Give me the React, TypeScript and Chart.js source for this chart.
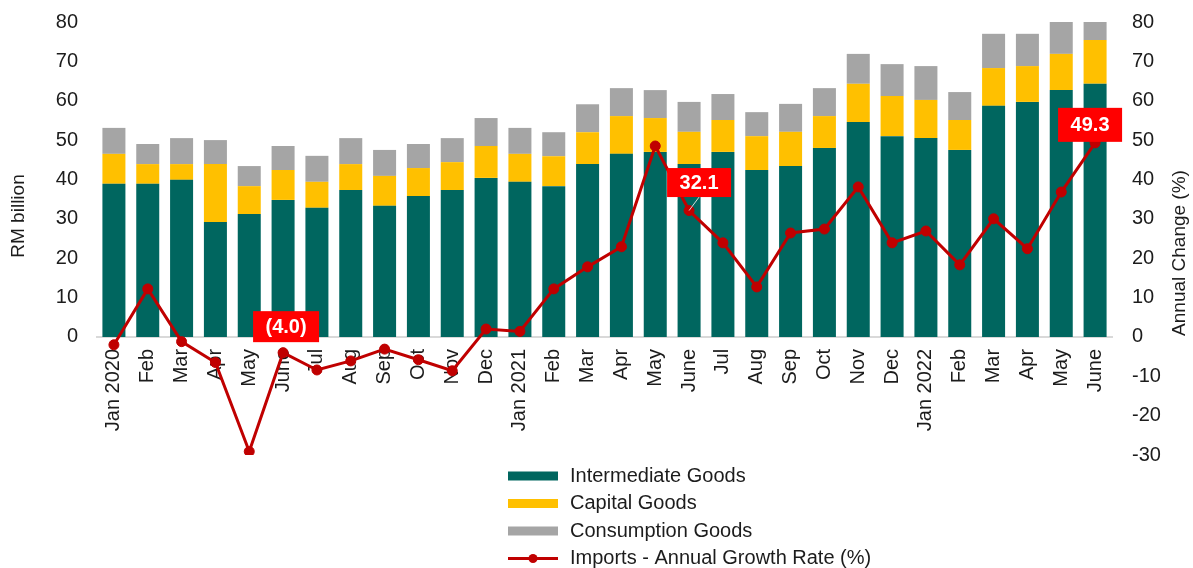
import React, { useEffect, useRef } from 'react';
import { Chart, registerables } from 'chart.js';

Chart.register(...registerables);

const categories = [
  'Jan 2020', 'Feb', 'Mar', 'Apr', 'May', 'June', 'Jul', 'Aug', 'Sep', 'Oct', 'Nov', 'Dec',
  'Jan 2021', 'Feb', 'Mar', 'Apr', 'May', 'June', 'Jul', 'Aug', 'Sep', 'Oct', 'Nov', 'Dec',
  'Jan 2022', 'Feb', 'Mar', 'Apr', 'May', 'June',
];

const intermediateGoods = [
  38.9, 38.9, 39.9, 29.2, 31.2, 34.8, 32.8, 37.3, 33.3, 35.8, 37.3, 40.4,
  39.4, 38.3, 43.9, 46.5, 47.0, 43.9, 47.0, 42.4, 43.4, 48.0, 54.6, 51.0,
  50.5, 47.5, 58.7, 59.7, 62.7, 64.3,
];

const capitalGoods = [
  7.6, 5.0, 4.0, 14.7, 7.1, 7.6, 6.6, 6.6, 7.6, 7.1, 7.1, 8.1,
  7.1, 7.6, 8.1, 9.6, 8.6, 8.2, 8.1, 8.6, 8.7, 8.1, 9.7, 10.2,
  9.7, 7.6, 9.6, 9.1, 9.2, 11.1,
];

const consumptionGoods = [
  6.6, 5.1, 6.6, 6.1, 5.1, 6.1, 6.6, 6.6, 6.6, 6.1, 6.1, 7.1,
  6.6, 6.1, 7.1, 7.1, 7.1, 7.6, 6.6, 6.1, 7.1, 7.1, 7.6, 8.1,
  8.6, 7.1, 8.7, 8.2, 8.1, 4.6,
];

const importsGrowth = [
  -2.0, 12.2, -1.2, -6.5, -29.1, -4.0, -8.4, -6.1, -3.1, -5.8, -8.6, 2.0,
  1.4, 12.2, 17.8, 22.9, 48.5, 32.1, 23.9, 12.7, 26.4, 27.4, 38.1, 23.9,
  26.9, 18.3, 30.0, 22.4, 36.8, 49.3,
];

const labelledPoints = [5, 17, 29];

const leftTicks = [0, 10, 20, 30, 40, 50, 60, 70, 80];

const FONT = "'Liberation Sans', Arial, sans-serif";
const TEXT = '#1c1c1c';

export default function App() {
  const ref = useRef<HTMLCanvasElement>(null);

  useEffect(() => {
    if (!ref.current) return;

    const boxOffsets: Record<number, { dx: number; dy: number; w: number; h: number; leader?: boolean }> = {
      5: { dx: 3, dy: -26, w: 66, h: 31 },
      17: { dx: 10, dy: -28, w: 64, h: 29, leader: true },
      29: { dx: -5, dy: -18, w: 64, h: 34 },
    };

    const overlay = {
      id: 'overlay',
      afterDatasetsDraw(chart: any) {
        const ctx = chart.ctx as CanvasRenderingContext2D;
        const lineIndex = chart.data.datasets.findIndex((d: any) => d.type === 'line');
        const meta = chart.getDatasetMeta(lineIndex);
        const values = chart.data.datasets[lineIndex].data as number[];
        labelledPoints.forEach((i) => {
          const pt = meta.data[i];
          if (!pt) return;
          const o = boxOffsets[i];
          const cx = pt.x + o.dx;
          const cy = pt.y + o.dy;
          ctx.save();
          if (o.leader) {
            ctx.strokeStyle = '#d8d8d8';
            ctx.lineWidth = 1;
            ctx.beginPath();
            ctx.moveTo(pt.x, pt.y);
            ctx.lineTo(cx, cy + o.h / 2);
            ctx.stroke();
          }
          ctx.fillStyle = '#FF0000';
          ctx.fillRect(cx - o.w / 2, cy - o.h / 2, o.w, o.h);
          const v = values[i];
          const txt = v < 0 ? `(${Math.abs(v).toFixed(1)})` : v.toFixed(1);
          ctx.fillStyle = '#ffffff';
          ctx.font = `bold 20px ${FONT}`;
          ctx.textAlign = 'center';
          ctx.textBaseline = 'middle';
          ctx.fillText(txt, cx, cy + 1);
          ctx.restore();
        });
      },
      afterDraw(chart: any) {
        const ctx = chart.ctx as CanvasRenderingContext2D;
        ctx.save();
        ctx.fillStyle = TEXT;
        ctx.font = `19px ${FONT}`;
        ctx.textAlign = 'center';
        ctx.textBaseline = 'middle';
        ctx.save();
        ctx.translate(19, 216);
        ctx.rotate(-Math.PI / 2);
        ctx.fillText('RM billion', 0, 0);
        ctx.restore();
        ctx.save();
        ctx.translate(1180, 253);
        ctx.rotate(-Math.PI / 2);
        ctx.fillText('Annual Change (%)', 0, 0);
        ctx.restore();

        // legend
        const x0 = 508;
        const y0 = 476;
        const step = 27.5;
        chart.data.datasets.forEach((d: any, k: number) => {
          const cy = y0 + k * step;
          if (d.type === 'line') {
            ctx.strokeStyle = d.borderColor;
            ctx.lineWidth = 3;
            ctx.beginPath();
            ctx.moveTo(x0, cy);
            ctx.lineTo(x0 + 50, cy);
            ctx.stroke();
            ctx.fillStyle = d.borderColor;
            ctx.beginPath();
            ctx.arc(x0 + 25, cy, 4.5, 0, Math.PI * 2);
            ctx.fill();
          } else {
            ctx.fillStyle = d.backgroundColor;
            ctx.fillRect(x0, cy - 4.5, 50, 9);
          }
          ctx.fillStyle = TEXT;
          ctx.font = `20px ${FONT}`;
          ctx.textAlign = 'left';
          ctx.textBaseline = 'middle';
          ctx.fillText(d.label, x0 + 62, cy);
        });
        ctx.restore();
      },
    };

    const tickFont = { family: FONT, size: 20 };

    const chart = new Chart(ref.current, {
      type: 'bar',
      data: {
        labels: categories,
        datasets: [
          {
            type: 'bar',
            label: 'Intermediate Goods',
            data: intermediateGoods,
            backgroundColor: '#00665F',
            yAxisID: 'y',
            order: 1,
            barPercentage: 0.68,
            categoryPercentage: 1,
          },
          {
            type: 'bar',
            label: 'Capital Goods',
            data: capitalGoods,
            backgroundColor: '#FFC000',
            yAxisID: 'y',
            order: 1,
            barPercentage: 0.68,
            categoryPercentage: 1,
          },
          {
            type: 'bar',
            label: 'Consumption Goods',
            data: consumptionGoods,
            backgroundColor: '#A5A5A5',
            yAxisID: 'y',
            order: 1,
            barPercentage: 0.68,
            categoryPercentage: 1,
          },
          {
            type: 'line',
            label: 'Imports - Annual Growth Rate (%)',
            data: importsGrowth,
            borderColor: '#C00000',
            backgroundColor: '#C00000',
            borderWidth: 3,
            pointRadius: 5,
            pointBorderWidth: 1,
            pointBackgroundColor: '#C00000',
            pointBorderColor: '#C00000',
            tension: 0,
            yAxisID: 'y1',
            order: 0,
          },
        ] as any,
      },
      options: {
        animation: false,
        responsive: false,
        layout: { padding: { top: 22, bottom: 113, left: 0, right: 0 } },
        plugins: {
          legend: { display: false },
          tooltip: { enabled: false },
        },
        scales: {
          x: {
            type: 'category',
            position: { y: 0 } as any,
            stacked: true,
            grid: { display: false, drawTicks: false },
            border: { display: true, color: '#D9D9D9', width: 2 },
            ticks: {
              autoSkip: false,
              maxRotation: 90,
              minRotation: 90,
              padding: 12,
              font: tickFont,
              color: TEXT,
            },
          },
          y: {
            type: 'linear',
            position: 'left',
            stacked: true,
            min: -30,
            max: 80,
            grid: { display: false, drawTicks: false },
            border: { display: false },
            afterFit: (s: any) => {
              s.width = 97;
              s.paddingTop = 0;
              s.paddingBottom = 0;
            },
            afterBuildTicks: (s: any) => {
              s.ticks = leftTicks.map((v) => ({ value: v }));
            },
            ticks: {
              padding: 19,
              font: tickFont,
              color: TEXT,
            },
          },
          y1: {
            type: 'linear',
            position: 'right',
            min: -30,
            max: 80,
            grid: { display: false, drawTicks: false },
            border: { display: false },
            afterFit: (s: any) => {
              s.width = 81;
              s.paddingTop = 0;
              s.paddingBottom = 0;
            },
            ticks: {
              stepSize: 10,
              padding: 20,
              font: tickFont,
              color: TEXT,
            },
          },
        },
      } as any,
      plugins: [overlay],
    });

    return () => chart.destroy();
  }, []);

  return (
    <div style={{ position: 'absolute', left: 0, top: 0, width: 1193, height: 568 }}>
      <canvas ref={ref} width={1193} height={568} style={{ display: 'block' }} />
    </div>
  );
}
